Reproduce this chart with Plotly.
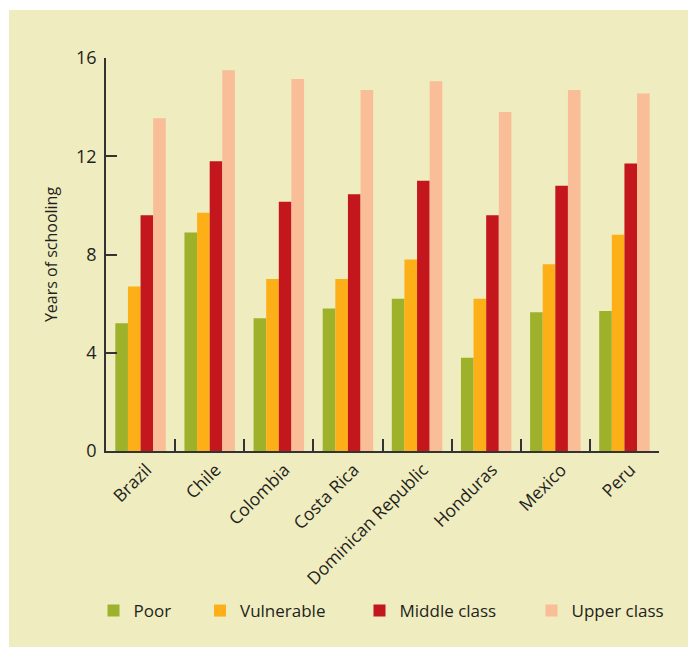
import plotly.graph_objects as go

countries = ["Brazil", "Chile", "Colombia", "Costa Rica", "Dominican Republic",
             "Honduras", "Mexico", "Peru"]
poor = [5.2, 8.9, 5.4, 5.8, 6.2, 3.8, 5.65, 5.7]
vulnerable = [6.7, 9.7, 7.0, 7.0, 7.8, 6.2, 7.6, 8.8]
middle_class = [9.6, 11.8, 10.15, 10.45, 11.0, 9.6, 10.8, 11.7]
upper_class = [13.55, 15.5, 15.15, 14.7, 15.05, 13.8, 14.7, 14.55]
y_ticks = [0, 4, 8, 12, 16]

series = [
    ("Poor", poor, "#9db22a", "legend"),
    ("Vulnerable", vulnerable, "#fcaf17", "legend2"),
    ("Middle class", middle_class, "#c3161d", "legend3"),
    ("Upper class", upper_class, "#f9bd98", "legend4"),
]

TEXT = "#231f20"
FONT = "Open Sans"
BEIGE = "#efecbf"

W, H = 688, 647
ML, MR, MT, MB = 106, 29, 58, 196
PW = W - ML - MR
PH = H - MT - MB


def px_x(px):
    return (px - ML) / PW


def px_y(py):
    return (H - MB - py) / PH


fig = go.Figure()
for name, vals, color, lg in series:
    fig.add_trace(go.Bar(x=countries, y=vals, name=name, legend=lg,
                         marker=dict(color=color, line=dict(width=0))))

legend_common = dict(orientation="h", yanchor="middle", xanchor="left",
                     bgcolor="rgba(0,0,0,0)", borderwidth=0,
                     font=dict(family=FONT, size=17, color=TEXT))
legend_lefts = [93.5, 200, 359.5, 531.5]
leg = {}
for i, key in enumerate(["legend", "legend2", "legend3", "legend4"]):
    leg[key] = dict(legend_common, x=px_x(legend_lefts[i]), y=px_y(611))

fig.update_layout(
    width=W, height=H,
    margin=dict(l=ML, r=MR, t=MT, b=MB, pad=0),
    paper_bgcolor="white",
    plot_bgcolor="rgba(0,0,0,0)",
    barmode="group",
    bargap=0.27,
    bargroupgap=0,
    showlegend=True,
    font=dict(family=FONT, color=TEXT),
    xaxis=dict(
        type="category",
        range=[-0.5, 7.5],
        showline=True, linecolor="#333333", linewidth=1.5,
        ticks="inside", tickson="boundaries", ticklen=12, tickwidth=1.5,
        tickcolor="#333333",
        tickangle=-45,
        ticklabelshift=6,
        tickfont=dict(family=FONT, size=17.5, color=TEXT),
        showgrid=False, zeroline=False,
    ),
    yaxis=dict(
        range=[0, 16],
        tickvals=y_ticks,
        showline=True, linecolor="#333333", linewidth=1.5,
        ticks="inside", ticklen=11, tickwidth=1.5, tickcolor="#333333",
        tickfont=dict(family=FONT, size=18, color=TEXT),
        ticklabelstandoff=4,
        showgrid=False, zeroline=False,
        title=dict(text="Years of schooling",
                   font=dict(family=FONT, size=16, color=TEXT),
                   standoff=14),
    ),
    shapes=[dict(type="rect", xref="paper", yref="paper", layer="below",
                 x0=px_x(9), x1=px_x(700), y0=px_y(660), y1=px_y(10),
                 fillcolor=BEIGE, line=dict(width=0))],
    **leg,
)

fig.write_html(
    "out.html",
    config={"displayModeBar": False},
    post_script="document.body.style.margin='0';"
                "document.body.style.overflow='hidden';",
)
